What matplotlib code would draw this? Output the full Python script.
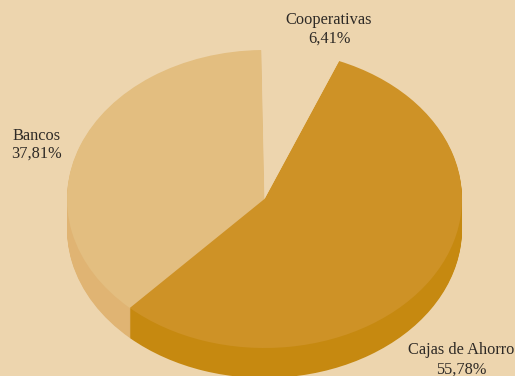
import matplotlib
matplotlib.use("Agg")
import matplotlib.pyplot as plt

labels = ["Bancos", "Cajas de Ahorro", "Cooperativas"]
values = [37.81, 55.78, 6.41]
value_labels = ["37,81%", "55,78%", "6,41%"]

BG = "#EDD5AE"
top_colors = ["#E3BE80", "#CE9226", BG]
side_colors = ["#E0B473", "#C68910", BG]

W, H = 515, 376
CX, CY, RX, RY = 264.5, 199.0, 197.5, 149.0
DEPTH = 30
START = 90.9

fig = plt.figure(figsize=(W / 100, H / 100), dpi=100, facecolor=BG)
ax = fig.add_axes([0, 0, 1, 1])

for k in range(DEPTH, 0, -1):
    ax.pie(values, colors=side_colors, startangle=START, radius=1,
           center=(0, -k / RY), wedgeprops=dict(linewidth=0, antialiased=True))
ax.pie(values, colors=top_colors, startangle=START, radius=1,
       center=(0, 0), wedgeprops=dict(linewidth=0))

ax.set_aspect("auto")
ax.set_xlim((0 - CX) / RX, (W - CX) / RX)
ax.set_ylim((CY - H) / RY, (CY - 0) / RY)
ax.axis("off")

# label anchor positions, in pixels of the figure (centre x, line centres y)
label_pos = [(36.5, 135.5, 153.5), (461, 349.5, 369.5), (329, 20, 38.5)]
for name, val, (x, y1, y2) in zip(labels, value_labels, label_pos):
    for s, y in ((name, y1), (val, y2)):
        fig.text(x / W, 1 - y / H, s, ha="center", va="center",
                 family="Liberation Serif", fontsize=11.8, color="#2e2a26")

fig.savefig("out.png", dpi=100, facecolor=BG)
